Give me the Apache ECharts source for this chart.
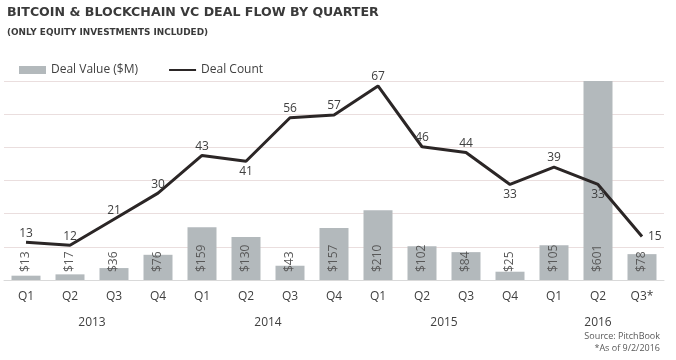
<!DOCTYPE html>
<html>
<head>
<meta charset="utf-8">
<script src="https://cdn.jsdelivr.net/npm/echarts@6/dist/echarts.min.js"></script>
<style>html,body{margin:0;padding:0;background:#fff}#c{width:676px;height:360px}</style>
</head>
<body>
<div id="c"></div>
<script>
const quarters = ['Q1','Q2','Q3','Q4','Q1','Q2','Q3','Q4','Q1','Q2','Q3','Q4','Q1','Q2','Q3*'];
const years = ['2013','2013','2013','2013','2014','2014','2014','2014','2015','2015','2015','2015','2016','2016','2016'];
const dealValue = [13,17,36,76,159,130,43,157,210,102,84,25,105,601,78];
const dealCount = [13,12,21,30,43,41,56,57,67,46,44,33,39,33,15];
const valueTicks = [0,100,200,300,400,500,600];

// year label centres derived from the category list
const yearNames = [];
years.forEach(y=>{ if (!yearNames.includes(y)) yearNames.push(y); });
const yearCentres = yearNames.map(y=>{
  const idx = years.map((v,i)=>v===y?i:-1).filter(i=>i>=0);
  return (idx[0]+idx[idx.length-1])/2;
});

const labelPos = {5:'bottom', 11:'bottom', 13:'bottom', 14:'right'};
const txt = '#404040';
const font = 'Open Sans';

const chart = echarts.init(document.getElementById('c'));
chart.setOption({
  animation:false,
  textStyle:{fontFamily:font},
  title:[
    {text:'BITCOIN & BLOCKCHAIN VC DEAL FLOW BY QUARTER', left:2, top:1,
     textStyle:{fontFamily:'DejaVu Sans', fontSize:12.6, fontWeight:'bold', color:'#3a3a3a'}},
    {text:'(ONLY EQUITY INVESTMENTS INCLUDED)', left:2, top:23,
     textStyle:{fontFamily:'DejaVu Sans', fontSize:8.9, fontWeight:'bold', color:'#3a3a3a'}},
    {text:'Source: PitchBook', right:11, top:327,
     textStyle:{fontFamily:font, fontSize:9, fontWeight:'normal', color:'#595959'}},
    {text:'*As of 9/2/2016', right:11, top:339,
     textStyle:{fontFamily:font, fontSize:9, fontWeight:'normal', color:'#595959'}}
  ],
  legend:{
    left:14, top:59, itemGap:30, itemWidth:27, itemHeight:8,
    textStyle:{fontFamily:font, fontSize:12, color:txt},
    data:[{name:'Deal Value ($M)', icon:'rect'},
          {name:'Deal Count', itemStyle:{opacity:0}}]
  },
  grid:{left:4, right:12, top:81, bottom:80, containLabel:false},
  xAxis:[
    {type:'category', data:quarters, boundaryGap:true,
     axisLine:{show:true, lineStyle:{color:'#d9d9d9', width:1}},
     axisTick:{show:false},
     axisLabel:{fontFamily:font, fontSize:12, color:txt, margin:11}},
    {type:'value', min:-0.5, max:quarters.length-0.5, position:'bottom',
     axisLine:{show:false}, axisTick:{show:false}, splitLine:{show:false},
     axisLabel:{customValues:yearCentres, fontFamily:font, fontSize:12, color:txt, margin:37,
       formatter:(v)=>yearNames[yearCentres.indexOf(v)] || ''}}
  ],
  yAxis:[
    {type:'value', min:valueTicks[0], max:valueTicks[valueTicks.length-1], interval:100,
     axisLabel:{show:false}, axisLine:{show:false}, axisTick:{show:false},
     splitLine:{show:true, lineStyle:{color:'#eadede', width:1}}},
    {type:'value', min:0, max:68.7, show:false, splitLine:{show:false}}
  ],
  series:[
    {name:'Deal Value ($M)', type:'bar', xAxisIndex:0, yAxisIndex:0, data:dealValue,
     barWidth:29, itemStyle:{color:'#b3b9bc'},
     label:{show:true, position:'insideBottom', distance:8, rotate:90, align:'left', verticalAlign:'middle',
       formatter:(p)=>'$'+p.value, fontFamily:font, fontSize:12, color:'#595959'}},
    {name:'Deal Count', type:'line', xAxisIndex:0, yAxisIndex:1, z:5,
     data:dealCount.map((v,i)=>{
       const pos = labelPos[i] || 'top';
       return {value:v, label:{position:pos, distance: pos==='right'?6:(pos==='bottom'?4:3)}};
     }),
     symbol:'circle', symbolSize:0.01, showSymbol:true,
     lineStyle:{color:'#2b2626', width:3},
     itemStyle:{color:'#2b2626'},
     label:{show:true, fontFamily:font, fontSize:12, color:txt}}
  ]
});
</script>
</body>
</html>
